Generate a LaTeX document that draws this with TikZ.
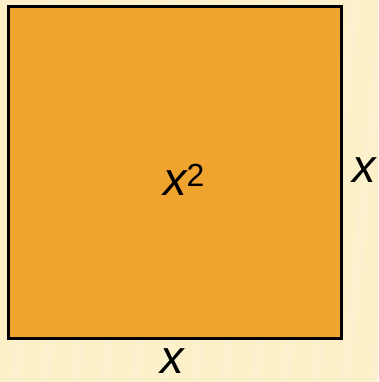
\documentclass[tikz,border=0pt]{standalone}
\usepackage{fontspec}
\setmainfont{Liberation Sans}
\begin{document}
\begin{tikzpicture}[x=1pt,y=-1pt,
  lbl/.style={font=\fontsize{47}{47}\selectfont\itshape, inner sep=0pt}]
\useasboundingbox (0,0) rectangle (378,382);
\fill[fill={rgb,255:red,251;green,240;blue,200}] (0,0) rectangle (378,382);
\foreach \i in {0,...,12}{
  \fill[white, opacity=0.12] (30*\i+10,382) -- (30*\i+20,382) -- (30*\i+60,0) -- (30*\i+50,0) -- cycle;
}
\node[draw=black, line width=2.6pt, fill={rgb,255:red,240;green,164;blue,48},
  minimum width=333pt, minimum height=332pt, inner sep=0pt, anchor=north west] (sq) at (7,5) {};
\node[lbl] (area) at (184,180) {x\textsuperscript{\upshape\fontsize{32}{32}\selectfont 2}};
\node[lbl] (side) at (364,170) {x};
\node[lbl] (base) at (172,361) {x};
\end{tikzpicture}
\end{document}
